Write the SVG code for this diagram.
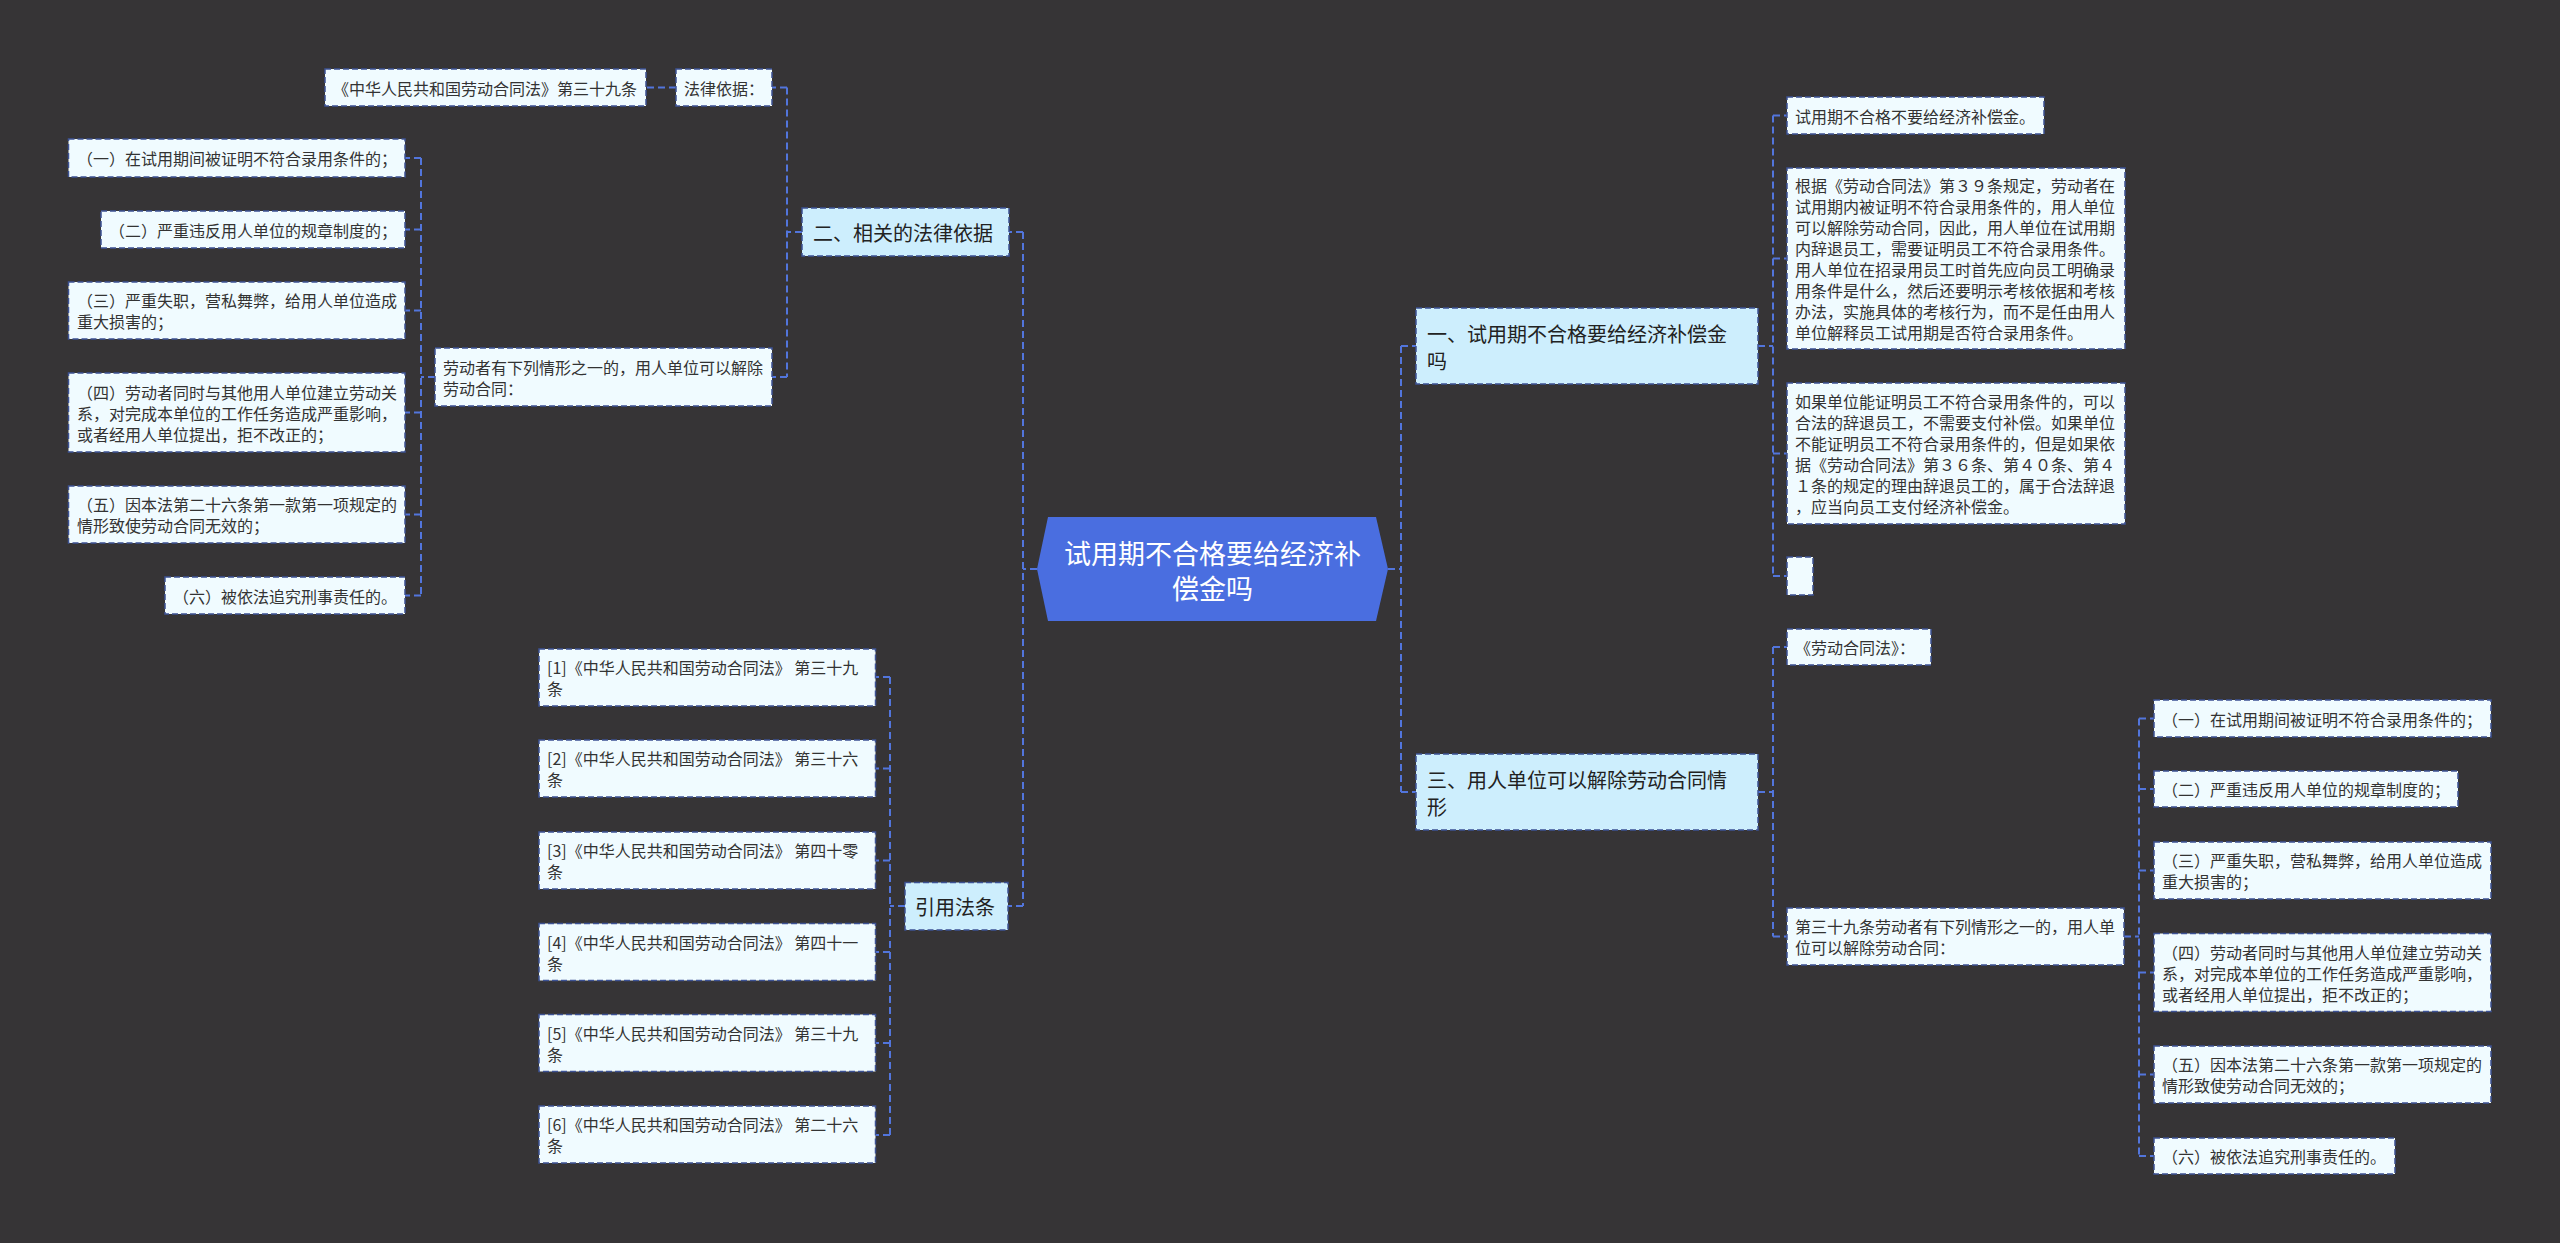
<svg xmlns="http://www.w3.org/2000/svg" width="2560" height="1243" viewBox="0 0 2560 1243">
<style>
.bg{fill:#363436}
.leaf{fill:#f0fbff;stroke:#3d5294;stroke-width:1.5;stroke-dasharray:6 3}
.l1{fill:#cdeefd;stroke:#3d5294;stroke-width:1.5;stroke-dasharray:6 3}
.root{fill:#4a6ee0}
.conn{fill:none;stroke:#5275dc;stroke-width:2;stroke-dasharray:7 4}
text{font-family:"Noto Sans CJK SC","Microsoft YaHei",sans-serif;dominant-baseline:central}
.t{font-size:16px;fill:#333}
.t1{font-size:20px;fill:#222}
.tr{font-size:27px;fill:#ffffff;text-anchor:middle}
</style>
<rect class="bg" x="0" y="0" width="2560" height="1243"/>

<g id="connectors">
<path class="conn" d="M1388,569 H1401 M1401,346 V792 M1401,346 H1416 M1401,792 H1416"/>
<path class="conn" d="M1758,346 H1773 M1773,115.5 V576 M1773,115.5 H1787 M1773,258.5 H1787 M1773,453.5 H1787 M1773,576 H1787"/>
<path class="conn" d="M1758,792 H1773 M1773,647 V936.5 M1773,647 H1787 M1773,936.5 H1787"/>
<path class="conn" d="M2124,936.5 H2139 M2139,718.5 V1156 M2139,718.5 H2154 M2139,789 H2154 M2139,870.5 H2154 M2139,972.5 H2154 M2139,1074.5 H2154 M2139,1156 H2154"/>
<path class="conn" d="M1037,569 H1023 M1023,232 V906 M1023,232 H1009 M1023,906 H1008"/>
<path class="conn" d="M802,232 H787 M787,87.5 V377 M787,87.5 H772 M787,377 H772"/>
<path class="conn" d="M676,87.5 H646"/>
<path class="conn" d="M435,377 H421 M421,158 V595.5 M421,158 H405 M421,229.5 H405 M421,310.5 H405 M421,412.5 H405 M421,514.5 H405 M421,595.5 H405"/>
<path class="conn" d="M905,906 H890 M890,677 V1135 M890,677 H875.5 M890,768.5 H875.5 M890,860.5 H875.5 M890,952 H875.5 M890,1043 H875.5 M890,1135 H875.5"/>
</g>

<g id="root">
<polygon class="root" points="1048,517 1376,517 1388,569 1376,621 1048,621 1037,569"/>
<text class="tr" x="1212.5" y="552">试用期不合格要给经济补</text>
<text class="tr" x="1212.5" y="587">偿金吗</text>
</g>

<g id="n-yi">
<rect class="l1" x="1416" y="308" width="342" height="76"/>
<text class="t1" x="1427" y="333.5">一、试用期不合格要给经济补偿金</text>
<text class="t1" x="1427" y="360.5">吗</text>
</g>
<g id="n-yi-a">
<rect class="leaf" x="1787" y="97" width="257" height="37"/>
<text class="t" x="1795" y="115.5">试用期不合格不要给经济补偿金。</text>
</g>
<g id="n-yi-b">
<rect class="leaf" x="1787" y="168" width="338" height="181"/>
<text class="t" x="1795" y="185">根据《劳动合同法》第３９条规定，劳动者在</text>
<text class="t" x="1795" y="206">试用期内被证明不符合录用条件的，用人单位</text>
<text class="t" x="1795" y="227">可以解除劳动合同，因此，用人单位在试用期</text>
<text class="t" x="1795" y="248">内辞退员工，需要证明员工不符合录用条件。</text>
<text class="t" x="1795" y="269">用人单位在招录用员工时首先应向员工明确录</text>
<text class="t" x="1795" y="290">用条件是什么，然后还要明示考核依据和考核</text>
<text class="t" x="1795" y="311">办法，实施具体的考核行为，而不是任由用人</text>
<text class="t" x="1795" y="332">单位解释员工试用期是否符合录用条件。</text>
</g>
<g id="n-yi-c">
<rect class="leaf" x="1787" y="383" width="338" height="141"/>
<text class="t" x="1795" y="401">如果单位能证明员工不符合录用条件的，可以</text>
<text class="t" x="1795" y="422">合法的辞退员工，不需要支付补偿。如果单位</text>
<text class="t" x="1795" y="443">不能证明员工不符合录用条件的，但是如果依</text>
<text class="t" x="1795" y="464">据《劳动合同法》第３６条、第４０条、第４</text>
<text class="t" x="1795" y="485">１条的规定的理由辞退员工的，属于合法辞退</text>
<text class="t" x="1795" y="506">，应当向员工支付经济补偿金。</text>
</g>
<g id="n-yi-d">
<rect class="leaf" x="1787" y="557" width="26" height="38"/>
</g>

<g id="n-san">
<rect class="l1" x="1416" y="754" width="342" height="76"/>
<text class="t1" x="1427" y="779.5">三、用人单位可以解除劳动合同情</text>
<text class="t1" x="1427" y="806.5">形</text>
</g>
<g id="n-san-a">
<rect class="leaf" x="1787" y="629" width="144" height="36"/>
<text class="t" x="1795" y="647">《劳动合同法》：</text>
</g>
<g id="n-san-b">
<rect class="leaf" x="1787" y="908" width="337" height="57"/>
<text class="t" x="1795" y="926">第三十九条劳动者有下列情形之一的，用人单</text>
<text class="t" x="1795" y="947">位可以解除劳动合同：</text>
</g>
<g id="n-san-b1">
<rect class="leaf" x="2154" y="700" width="337" height="37"/>
<text class="t" x="2162" y="718.5">（一）在试用期间被证明不符合录用条件的；</text>
</g>
<g id="n-san-b2">
<rect class="leaf" x="2154" y="771" width="304" height="36"/>
<text class="t" x="2162" y="789">（二）严重违反用人单位的规章制度的；</text>
</g>
<g id="n-san-b3">
<rect class="leaf" x="2154" y="842" width="337" height="57"/>
<text class="t" x="2162" y="860">（三）严重失职，营私舞弊，给用人单位造成</text>
<text class="t" x="2162" y="881">重大损害的；</text>
</g>
<g id="n-san-b4">
<rect class="leaf" x="2154" y="933.5" width="337" height="78"/>
<text class="t" x="2162" y="951.5">（四）劳动者同时与其他用人单位建立劳动关</text>
<text class="t" x="2162" y="972.5">系，对完成本单位的工作任务造成严重影响，</text>
<text class="t" x="2162" y="993.5">或者经用人单位提出，拒不改正的；</text>
</g>
<g id="n-san-b5">
<rect class="leaf" x="2154" y="1046" width="337" height="57"/>
<text class="t" x="2162" y="1064">（五）因本法第二十六条第一款第一项规定的</text>
<text class="t" x="2162" y="1085">情形致使劳动合同无效的；</text>
</g>
<g id="n-san-b6">
<rect class="leaf" x="2154" y="1138" width="241" height="36"/>
<text class="t" x="2162" y="1156">（六）被依法追究刑事责任的。</text>
</g>

<g id="n-er">
<rect class="l1" x="802" y="208" width="207" height="48"/>
<text class="t1" x="813" y="232">二、相关的法律依据</text>
</g>
<g id="n-er-a">
<rect class="leaf" x="676" y="69" width="96" height="37"/>
<text class="t" x="684" y="87.5">法律依据：</text>
</g>
<g id="n-er-a1">
<rect class="leaf" x="325" y="69" width="321" height="37"/>
<text class="t" x="333" y="87.5">《中华人民共和国劳动合同法》第三十九条</text>
</g>
<g id="n-er-b">
<rect class="leaf" x="435" y="348" width="337" height="58"/>
<text class="t" x="443" y="366.5">劳动者有下列情形之一的，用人单位可以解除</text>
<text class="t" x="443" y="387.5">劳动合同：</text>
</g>
<g id="n-er-b1">
<rect class="leaf" x="68.5" y="139" width="336.5" height="38"/>
<text class="t" x="77" y="158">（一）在试用期间被证明不符合录用条件的；</text>
</g>
<g id="n-er-b2">
<rect class="leaf" x="101" y="211" width="304" height="37"/>
<text class="t" x="109" y="229.5">（二）严重违反用人单位的规章制度的；</text>
</g>
<g id="n-er-b3">
<rect class="leaf" x="68.5" y="282" width="336.5" height="57"/>
<text class="t" x="77" y="300">（三）严重失职，营私舞弊，给用人单位造成</text>
<text class="t" x="77" y="321">重大损害的；</text>
</g>
<g id="n-er-b4">
<rect class="leaf" x="68.5" y="373" width="336.5" height="79"/>
<text class="t" x="77" y="391.5">（四）劳动者同时与其他用人单位建立劳动关</text>
<text class="t" x="77" y="412.5">系，对完成本单位的工作任务造成严重影响，</text>
<text class="t" x="77" y="433.5">或者经用人单位提出，拒不改正的；</text>
</g>
<g id="n-er-b5">
<rect class="leaf" x="68.5" y="486" width="336.5" height="57"/>
<text class="t" x="77" y="504">（五）因本法第二十六条第一款第一项规定的</text>
<text class="t" x="77" y="525">情形致使劳动合同无效的；</text>
</g>
<g id="n-er-b6">
<rect class="leaf" x="165" y="577" width="240" height="37"/>
<text class="t" x="173" y="595.5">（六）被依法追究刑事责任的。</text>
</g>

<g id="n-yin">
<rect class="l1" x="905" y="882.5" width="103" height="47.5"/>
<text class="t1" x="915" y="906">引用法条</text>
</g>
<g id="n-yin-1">
<rect class="leaf" x="539" y="649" width="336.5" height="57"/>
<text class="t" x="547" y="666.5">[1]《中华人民共和国劳动合同法》 第三十九</text>
<text class="t" x="547" y="687.5">条</text>
</g>
<g id="n-yin-2">
<rect class="leaf" x="539" y="740" width="336.5" height="57"/>
<text class="t" x="547" y="758">[2]《中华人民共和国劳动合同法》 第三十六</text>
<text class="t" x="547" y="779">条</text>
</g>
<g id="n-yin-3">
<rect class="leaf" x="539" y="832" width="336.5" height="57"/>
<text class="t" x="547" y="850">[3]《中华人民共和国劳动合同法》 第四十零</text>
<text class="t" x="547" y="871">条</text>
</g>
<g id="n-yin-4">
<rect class="leaf" x="539" y="923.5" width="336.5" height="57"/>
<text class="t" x="547" y="941.5">[4]《中华人民共和国劳动合同法》 第四十一</text>
<text class="t" x="547" y="962.5">条</text>
</g>
<g id="n-yin-5">
<rect class="leaf" x="539" y="1014.5" width="336.5" height="57"/>
<text class="t" x="547" y="1032.5">[5]《中华人民共和国劳动合同法》 第三十九</text>
<text class="t" x="547" y="1053.5">条</text>
</g>
<g id="n-yin-6">
<rect class="leaf" x="539" y="1106" width="336.5" height="57"/>
<text class="t" x="547" y="1124">[6]《中华人民共和国劳动合同法》 第二十六</text>
<text class="t" x="547" y="1145">条</text>
</g>
</svg>
